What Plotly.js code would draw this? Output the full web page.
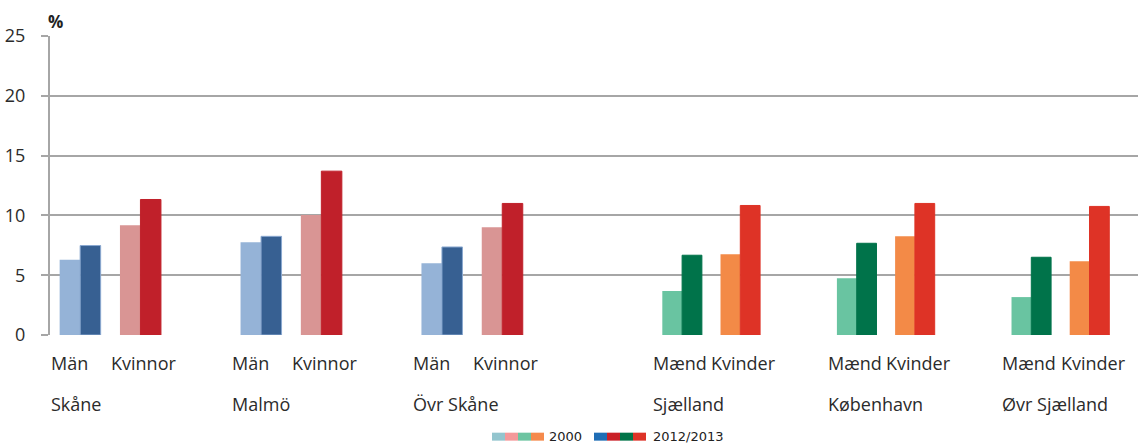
<!DOCTYPE html>
<html>
<head>
<meta charset="utf-8">
<script src="https://cdn.plot.ly/plotly-3.0.1.min.js"></script>
<style>html,body{margin:0;padding:0;background:#fff;}#chart{width:1143px;height:443px;}</style>
</head>
<body>
<div id="chart"></div>
<script>
// ---- data ----
const regionsSE = ['Skåne', 'Malmö', 'Övr Skåne'];
const regionsDK = ['Sjælland', 'København', 'Øvr Sjælland'];
const gendersSE = ['Män', 'Kvinnor'];
const gendersDK = ['Mænd', 'Kvinder'];
const men2000SE = [6.3, 7.75, 6.0];
const men2012SE = [7.48, 8.25, 7.36];
const women2000SE = [9.17, 10.03, 9.0];
const women2012SE = [11.33, 13.7, 11.0];
const men2000DK = [3.67, 4.75, 3.17];
const men2012DK = [6.67, 7.67, 6.5];
const women2000DK = [6.75, 8.25, 6.17];
const women2012DK = [10.83, 11.0, 10.75];
const legendNames = ['2000', '2012/2013'];

// ---- styles ----
const colSE = { m0: '#95b3d7', m1: '#376092', w0: '#d99594', w1: '#c0202a' };
const colDK = { m0: '#69c4a1', m1: '#00734a', w0: '#f38a47', w1: '#de3326' };
const legCols0 = ['#93c5ce', '#f4999a', '#6dc4a1', '#f58a4c'];
const legCols1 = ['#1f6db5', '#c92027', '#007448', '#dd3327'];
const FONT = 'Open Sans, Noto Sans, sans-serif';
const TXT = '#2b2b2b';
const GRID = '#a6a6a6';
const LABEL_SIZE = 18;

function buildCats(regions, genders, extraGaps) {
  const cats = [];
  regions.forEach((r, i) => {
    genders.forEach(g => cats.push(r + '|' + g));
    if (i < regions.length - 1 || extraGaps > 0) cats.push('gap' + i);
  });
  for (let k = 1; k < extraGaps; k++) cats.push('gapx' + k);
  return cats;
}
const catsSE = buildCats(regionsSE, gendersSE, 2);
const catsDK = buildCats(regionsDK, gendersDK, 0);

function mkTraces(regions, genders, m0, m1, w0, w1, col, xaxis) {
  const x = [], y0 = [], y1 = [], c0 = [], c1 = [], l1 = [];
  regions.forEach((r, i) => {
    x.push(r + '|' + genders[0]); y0.push(m0[i]); y1.push(m1[i]); c0.push(col.m0); c1.push(col.m1);
    l1.push(xaxis === 'x' ? '#8aa8d0' : col.m1);
    x.push(r + '|' + genders[1]); y0.push(w0[i]); y1.push(w1[i]); c0.push(col.w0); c1.push(col.w1);
    l1.push(col.w1);
  });
  return [
    { type: 'bar', x: x, y: y0, name: legendNames[0], xaxis: xaxis, yaxis: 'y',
      marker: { color: c0, line: { width: 0 } }, showlegend: false, hoverinfo: 'y' },
    { type: 'bar', x: x, y: y1, name: legendNames[1], xaxis: xaxis, yaxis: 'y',
      marker: { color: c1, line: { width: 1, color: l1 } }, showlegend: false, hoverinfo: 'y' }
  ];
}

const data = [].concat(
  mkTraces(regionsSE, gendersSE, men2000SE, men2012SE, women2000SE, women2012SE, colSE, 'x'),
  mkTraces(regionsDK, gendersDK, men2000DK, men2012DK, women2000DK, women2012DK, colDK, 'x2')
);

// plot-area geometry in pixels
const W = 1143, H = 443;
const L = 50, R = 1138, T = 35.5, B = 335.5;
const splitPx = 653;
const px2paperX = px => (px - L) / (R - L);
const px2paperY = py => (B - py) / (B - T);

const annotations = [];
function addLabels(regions, genders, xref) {
  regions.forEach(r => {
    genders.forEach(g => {
      annotations.push({ x: r + '|' + g, xref: xref, y: px2paperY(364), yref: 'paper',
        text: g, showarrow: false, xanchor: 'left', yanchor: 'middle', xshift: -31,
        font: { family: FONT, size: LABEL_SIZE, color: TXT } });
    });
    annotations.push({ x: r + '|' + genders[0], xref: xref, y: px2paperY(405), yref: 'paper',
      text: r, showarrow: false, xanchor: 'left', yanchor: 'middle', xshift: -31,
      font: { family: FONT, size: LABEL_SIZE, color: TXT } });
  });
}
addLabels(regionsSE, gendersSE, 'x');
addLabels(regionsDK, gendersDK, 'x2');

annotations.push({ x: px2paperX(46), xref: 'paper', y: px2paperY(21), yref: 'paper', text: '<b>%</b>',
  showarrow: false, xanchor: 'left', yanchor: 'middle', font: { family: FONT, size: 17, color: '#222' } });

// legend (multi-colour swatches)
const shapes = [];
function swatchRow(cols, x0px) {
  cols.forEach((c, i) => {
    shapes.push({ type: 'rect', xref: 'paper', yref: 'paper', layer: 'above',
      x0: px2paperX(x0px + i * 13), x1: px2paperX(x0px + (i + 1) * 13),
      y0: px2paperY(441.5), y1: px2paperY(433.5), fillcolor: c, line: { width: 0 } });
  });
}
swatchRow(legCols0, 492);
swatchRow(legCols1, 594);
const legFont = { family: 'DejaVu Sans, sans-serif', size: 13, color: '#222' };
annotations.push({ x: px2paperX(547), xref: 'paper', y: px2paperY(437.5), yref: 'paper', text: legendNames[0],
  showarrow: false, xanchor: 'left', yanchor: 'middle', font: legFont });
annotations.push({ x: px2paperX(651), xref: 'paper', y: px2paperY(437.5), yref: 'paper', text: legendNames[1],
  showarrow: false, xanchor: 'left', yanchor: 'middle', font: legFont });

const commonX = {
  type: 'category', showgrid: false, zeroline: false, showticklabels: false,
  ticks: '', showline: false, fixedrange: true, anchor: 'y', categoryorder: 'array'
};

const layout = {
  width: W, height: H,
  margin: { l: L, r: W - R, t: T, b: H - B, pad: 0 },
  paper_bgcolor: '#fff', plot_bgcolor: '#fff',
  barmode: 'group', bargap: 0.32, bargroupgap: 0,
  showlegend: false,
  xaxis: Object.assign({}, commonX, { domain: [0, px2paperX(splitPx)], categoryarray: catsSE, range: [-0.5, catsSE.length - 0.5] }),
  xaxis2: Object.assign({}, commonX, { domain: [px2paperX(splitPx), 1], categoryarray: catsDK, range: [-0.5, -0.5 + (R - splitPx) / 58.2] }),
  yaxis: {
    range: [0, 25], dtick: 5, tick0: 0, showgrid: true, gridcolor: GRID, gridwidth: 2,
    zeroline: false, showline: true, linecolor: GRID, linewidth: 2,
    ticks: 'outside', ticklen: 7, tickwidth: 2, tickcolor: GRID, ticklabelstandoff: 12,
    tickfont: { family: FONT, size: 18, color: TXT }, fixedrange: true, anchor: 'x'
  },
  annotations: annotations,
  shapes: shapes
};

Plotly.newPlot('chart', data, layout, { displayModeBar: false, staticPlot: true });
</script>
</body>
</html>
